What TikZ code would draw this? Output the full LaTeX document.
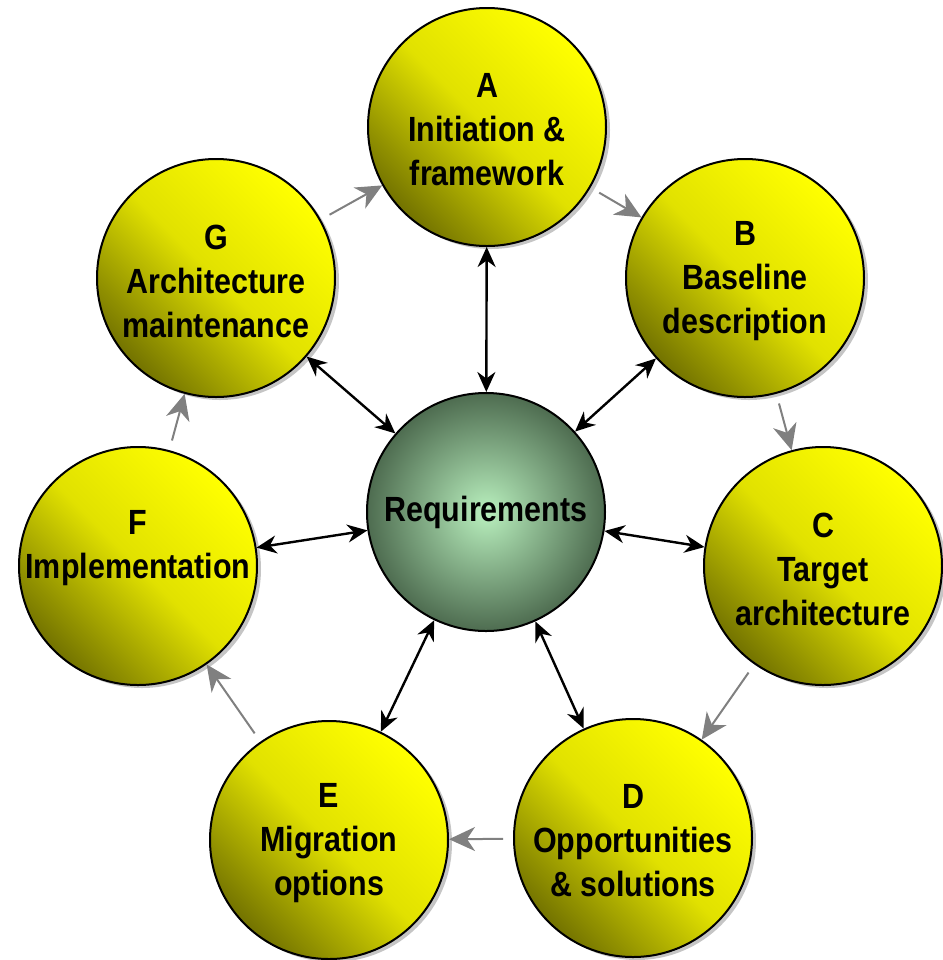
\documentclass[tikz,border=0pt]{standalone}
\usepackage{fontspec}
\setmainfont{Liberation Sans}[FakeStretch=0.87]
\usetikzlibrary{arrows.meta,shadows}

\definecolor{phaselight}{RGB}{255,255,0}
\definecolor{phasemid}{RGB}{225,225,0}
\definecolor{phasedark}{RGB}{115,115,0}
\definecolor{reqlight}{RGB}{185,240,190}
\definecolor{reqdark}{RGB}{78,108,80}
\definecolor{cyclegray}{RGB}{128,128,128}

\tikzset{
  phase/.style={circle, draw, line width=1pt, minimum size=119pt, inner sep=0pt,
    top color=phaselight, bottom color=phasedark, middle color=phasemid, shading angle=-45,
    drop shadow={shadow xshift=2pt, shadow yshift=-1.5pt, fill=black!45}},
  phasetext/.style={align=center, font=\fontsize{17.5}{22}\selectfont\bfseries},
  req/.style={circle, draw, line width=1pt, minimum size=119pt, inner sep=0pt,
    inner color=reqlight, outer color=reqdark,
    font=\fontsize{17.5}{22}\selectfont\bfseries},
  cycarrow/.style={draw=cyclegray, line width=1pt,
    -{Stealth[length=13pt,width=12pt,inset=4pt]}, shorten <=5pt},
  reqarrow/.style={line width=1.2pt,
    {Stealth[length=10pt,width=9pt]}-{Stealth[length=10pt,width=9pt]}}
}

\begin{document}
\begin{tikzpicture}[x=0.5pt, y=-0.5pt]
    \useasboundingbox (0,0) rectangle (943,960);

    % --- Coordinates ---
    % Centres of the seven phases and of the hub
    \coordinate (PA) at (487,127);
    \coordinate (PB) at (745,278);
    \coordinate (PC) at (823,566);
    \coordinate (PD) at (633,838);
    \coordinate (PE) at (329,840);
    \coordinate (PF) at (138,566);
    \coordinate (PG) at (216,278);
    \coordinate (PR) at (486,512);

    % --- Phases ---
    \node[phase, label={[phasetext, yshift=-1.5pt]center:{A\\Initiation \&\\framework}}] (a) at (PA) {};
    \node[phase, label={[phasetext, yshift=-1.5pt]center:{B\\Baseline\\description}}] (b) at (PB) {};
    \node[phase, label={[phasetext, yshift=-1.5pt]center:{C\\Target\\architecture}}] (c) at (PC) {};
    \node[phase, label={[phasetext, yshift=-1.5pt]center:{D\\Opportunities\\\& solutions}}] (d) at (PD) {};
    \node[phase, label={[phasetext, yshift=-1.5pt]center:{E\\Migration\\options}}] (e) at (PE) {};
    \node[phase, label={[phasetext, yshift=9pt]center:{F\\Implementation}}] (f) at (PF) {};
    \node[phase, label={[phasetext, yshift=-1.5pt]center:{G\\Architecture\\maintenance}}] (g) at (PG) {};

    % --- Hub ---
    \node[req] (req) at (PR) {Requirements};

    % --- Cycle ---
    % Grey arrows running round the phases
    \draw[cycarrow] (a) -- (b);
    \draw[cycarrow] (b) -- (c);
    \draw[cycarrow] (c) -- (d);
    \draw[cycarrow] (d) -- (e);
    \draw[cycarrow] (e) -- (f);
    \draw[cycarrow] (f) -- (g);
    \draw[cycarrow] (g) -- (a);

    % --- Spokes ---
    % Two-way links between the hub and each phase
    \foreach \p in {a,b,c,d,e,f,g}
        \draw[reqarrow] (req) -- (\p);

\end{tikzpicture}
\end{document}
